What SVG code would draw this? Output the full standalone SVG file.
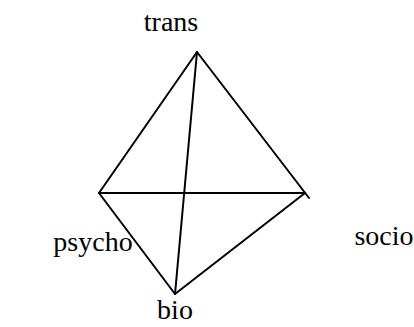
<svg xmlns="http://www.w3.org/2000/svg" width="414" height="327" viewBox="0 0 414 327">
<style>
.lbl{font-family:"Liberation Serif","Times New Roman",Times,serif;font-size:28px;fill:#000}
.ln{stroke:#000;stroke-width:2;fill:none;stroke-linecap:round}
</style>
<rect width="414" height="327" fill="#fff"/>
<g id="connectors">
<line class="ln" x1="197" y1="52" x2="99" y2="193"/>
<line class="ln" x1="197" y1="52" x2="309" y2="198"/>
<line class="ln" x1="197" y1="52" x2="175" y2="294"/>
<line class="ln" x1="99" y1="193" x2="305" y2="193"/>
<line class="ln" x1="99" y1="193" x2="175" y2="294"/>
<line class="ln" x1="305" y1="193" x2="175" y2="294"/>
</g>
<g id="trans"><text class="lbl" x="171" y="31" text-anchor="middle">trans</text></g>
<g id="psycho"><text class="lbl" x="93" y="251" text-anchor="middle">psycho</text></g>
<g id="socio"><text class="lbl" x="384" y="245" text-anchor="middle">socio</text></g>
<g id="bio"><text class="lbl" x="175" y="319" text-anchor="middle">bio</text></g>
</svg>
